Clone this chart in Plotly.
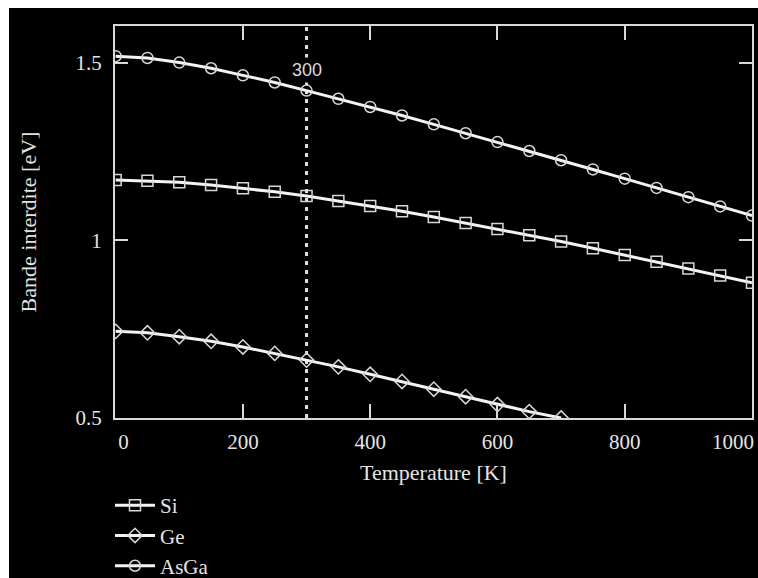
import plotly.graph_objects as go

# Temperature points (K)
temperature = [0, 50, 100, 150, 200, 250, 300, 350, 400, 450, 500,
               550, 600, 650, 700, 750, 800, 850, 900, 950, 1000]

# Band gap values (eV)
si_gap = [1.170, 1.168, 1.164, 1.156, 1.147, 1.137, 1.125, 1.111, 1.097, 1.082, 1.066,
          1.049, 1.032, 1.015, 0.997, 0.978, 0.959, 0.940, 0.921, 0.901, 0.881]
ge_temperature = [0, 50, 100, 150, 200, 250, 300, 350, 400, 450, 500, 550, 600, 650, 700]
ge_gap = [0.744, 0.740, 0.729, 0.716, 0.700, 0.682, 0.663, 0.644, 0.623, 0.603, 0.581,
          0.560, 0.538, 0.518, 0.500]
asga_gap = [1.519, 1.514, 1.501, 1.485, 1.465, 1.445, 1.422, 1.399, 1.376, 1.352, 1.327,
            1.302, 1.277, 1.252, 1.226, 1.200, 1.174, 1.148, 1.122, 1.096, 1.070]

x_ticks = [0, 200, 400, 600, 800, 1000]
x_tick_labels = ["0", "200", "400", "600", "800", "1000"]
y_ticks = [0.5, 1, 1.5]
y_tick_labels = ["0.5", "1", "1.5"]
marker_temperature = 300

FG = "#e4e4e4"
LINE = "#f4f4f4"
SERIF = "Liberation Serif, Times New Roman, serif"
NB = "\u00a0"

fig = go.Figure()

def add(name, x, y, symbol):
    fig.add_trace(go.Scatter(
        x=x, y=y, name=name, mode="lines+markers",
        line=dict(color=LINE, width=3),
        marker=dict(symbol=symbol, size=11, color="#d8d8d8",
                    line=dict(width=1.5, color="#d8d8d8")),
        cliponaxis=True,
    ))

add("Si", temperature, si_gap, "square-open")
add("Ge", ge_temperature, ge_gap, "diamond-open")
add("AsGa", temperature, asga_gap, "circle-open")

W, H = 758, 578
L, R, T, B = 115, 752, 26, 418
def px(xp):
    return (xp - L) / (R - L)
def py(yp):
    return (B - yp) / (B - T)

# first label nudged right; last label drawn right-aligned so it stays inside the frame
x_text = list(x_tick_labels)
x_text[0] = NB * 3 + x_text[0]
last_label = x_text[-1]
x_text[-1] = ""

shapes = [
    # black canvas, leaving the thin white strip on top and left
    dict(type="rect", xref="paper", yref="paper",
         x0=px(9), x1=px(W + 20), y0=py(H + 20), y1=py(8),
         fillcolor="black", line=dict(width=0), layer="below"),
    dict(type="line", xref="x", yref="paper",
         x0=marker_temperature, x1=marker_temperature, y0=0, y1=1,
         line=dict(color="#e0e0e0", width=3, dash="4px,5px"), layer="below"),
]

annotations = [
    dict(x=marker_temperature, y=1.48, xref="x", yref="y",
         text=str(marker_temperature), showarrow=False,
         font=dict(family="Liberation Sans, Arial, sans-serif", size=18, color="#dcdcdc"),
         bgcolor="black", borderpad=2, xanchor="center", yanchor="middle"),
    dict(x=x_ticks[-1], y=0, xref="x", yref="paper",
         text=last_label, showarrow=False, xanchor="right", yanchor="top",
         xshift=3, yshift=-11, borderpad=0,
         font=dict(family=SERIF, size=21, color=FG)),
]

fig.update_layout(
    width=W, height=H,
    paper_bgcolor="white",
    plot_bgcolor="black",
    margin=dict(l=L, r=W - R, t=T, b=H - B, pad=0, autoexpand=False),
    shapes=shapes,
    annotations=annotations,
    showlegend=True,
    legend=dict(
        x=px(110), y=py(485), xanchor="left", yanchor="top",
        orientation="v", itemwidth=40,
        font=dict(family=SERIF, size=21, color=FG),
        bgcolor="rgba(0,0,0,0)", traceorder="normal",
    ),
    font=dict(family=SERIF, color=FG),
)

fig.update_xaxes(
    range=[-1, 1000], tickvals=x_ticks, ticktext=x_text,
    showgrid=False, zeroline=False,
    showline=True, linecolor="#d8d8d8", linewidth=2, mirror="ticks",
    ticks="inside", ticklen=14, tickwidth=2, tickcolor="#d8d8d8",
    tickfont=dict(family=SERIF, size=21, color=FG),
    ticklabelstandoff=4,
    title=dict(text="Temperature [K]", font=dict(family=SERIF, size=22, color=FG),
               standoff=11),
)
fig.update_yaxes(
    range=[0.5, 1.604], tickvals=y_ticks, ticktext=y_tick_labels,
    showgrid=False, zeroline=False,
    showline=True, linecolor="#d8d8d8", linewidth=2, mirror="ticks",
    ticks="inside", ticklen=13, tickwidth=2, tickcolor="#d8d8d8",
    tickfont=dict(family=SERIF, size=21, color=FG),
    ticklabelstandoff=7,
    title=dict(text="Bande interdite [eV]", font=dict(family=SERIF, size=22, color=FG),
               standoff=33),
)

fig.write_html(
    "out.html",
    config=dict(displayModeBar=False),
    post_script="document.body.style.margin='0';"
                "document.documentElement.style.background='black';"
                "document.body.style.overflow='hidden';",
)
